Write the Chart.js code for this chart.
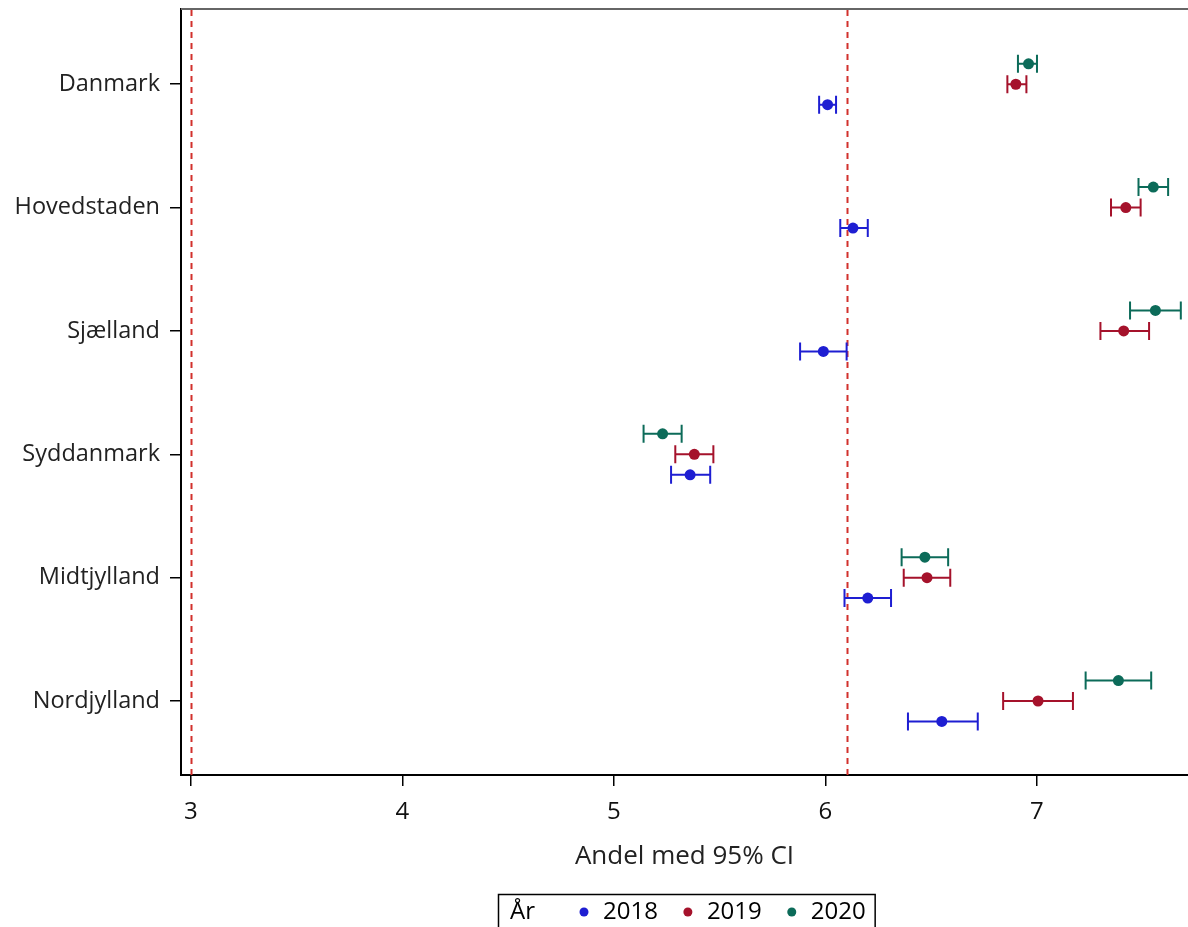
<!DOCTYPE html>
<html><head><meta charset="utf-8">
<script src="https://cdn.jsdelivr.net/npm/chart.js@4"></script>
<style>html,body{margin:0;padding:0;background:#fff;overflow:hidden}#wrap{width:1188px;height:927px;position:relative}</style>
</head><body><div id="wrap"><canvas id="c" width="1188" height="927"></canvas></div>
<script>
const categories = ['Danmark', 'Hovedstaden', 'Sjælland', 'Syddanmark', 'Midtjylland', 'Nordjylland'];
const years = ['2018', '2019', '2020'];
const est2018 = [6.01, 6.13, 5.99, 5.36, 6.20, 6.55];
const lo2018  = [5.97, 6.07, 5.88, 5.27, 6.09, 6.39];
const hi2018  = [6.05, 6.20, 6.10, 5.455, 6.31, 6.72];
const est2019 = [6.90, 7.42, 7.41, 5.38, 6.48, 7.005];
const lo2019  = [6.86, 7.35, 7.30, 5.29, 6.37, 6.84];
const hi2019  = [6.95, 7.49, 7.53, 5.47, 6.59, 7.17];
const est2020 = [6.96, 7.55, 7.56, 5.23, 6.47, 7.385];
const lo2020  = [6.91, 7.48, 7.44, 5.14, 6.36, 7.23];
const hi2020  = [7.00, 7.62, 7.68, 5.32, 6.58, 7.54];
const xTicks = [3, 4, 5, 6, 7];
const refLines = [3, 6.1];
const xTitle = 'Andel med 95% CI';
const legendTitle = 'År';

const FONT = "'Open Sans', 'Noto Sans', sans-serif";
const colors = ['#1e1ed2', '#a5122b', '#0c6b59'];
const DODGE = 0.166;
const offsets = [DODGE, 0, -DODGE];
const est = [est2018, est2019, est2020];
const lo = [lo2018, lo2019, lo2020];
const hi = [hi2018, hi2019, hi2020];

const datasets = years.map((yr, s) => ({
  label: yr,
  data: categories.map((c, i) => ({ x: est[s][i], y: i + 1 + offsets[s], lo: lo[s][i], hi: hi[s][i] })),
  backgroundColor: colors[s],
  borderColor: colors[s],
  pointRadius: 5.5,
  pointBorderWidth: 0,
  showLine: false,
  clip: false
}));

const framePlugin = {
  id: 'frame',
  beforeDatasetsDraw(chart) {
    const { ctx, chartArea: a, scales: { x } } = chart;
    ctx.save();
    ctx.strokeStyle = '#666';
    ctx.lineWidth = 2;
    ctx.beginPath(); ctx.moveTo(a.left, a.top); ctx.lineTo(a.right, a.top); ctx.stroke();
    ctx.strokeStyle = '#d2302c';
    ctx.lineWidth = 2;
    ctx.setLineDash([6, 5]);
    refLines.forEach(v => {
      const px = Math.round(x.getPixelForValue(v)) + 0.5;
      ctx.beginPath(); ctx.moveTo(px, a.top + 1); ctx.lineTo(px, a.bottom); ctx.stroke();
    });
    ctx.restore();
  }
};

const errorBarPlugin = {
  id: 'errorbars',
  beforeDatasetsDraw(chart) {
    const { ctx, scales: { x, y } } = chart;
    ctx.save();
    ctx.lineWidth = 2;
    chart.data.datasets.forEach(ds => {
      ctx.strokeStyle = ds.borderColor;
      ds.data.forEach(d => {
        const py = y.getPixelForValue(d.y);
        const x1 = x.getPixelForValue(d.lo);
        const x2 = x.getPixelForValue(d.hi);
        ctx.beginPath();
        ctx.moveTo(x1, py); ctx.lineTo(x2, py);
        ctx.moveTo(x1, py - 9); ctx.lineTo(x1, py + 9);
        ctx.moveTo(x2, py - 9); ctx.lineTo(x2, py + 9);
        ctx.stroke();
      });
    });
    ctx.restore();
  }
};

const legendPlugin = {
  id: 'customLegend',
  afterDraw(chart) {
    const { ctx } = chart;
    ctx.save();
    ctx.font = '24px ' + FONT;
    ctx.textBaseline = 'middle';
    const padL = 12, gapTitle = 49, dotToText = 19, textToDot = 30, padR = 9;
    const titleW = ctx.measureText(legendTitle).width;
    const labels = chart.data.datasets.map(d => d.label);
    const widths = labels.map(l => ctx.measureText(l).width);
    let total = padL + titleW + gapTitle;
    widths.forEach((w, i) => { total += dotToText + w + (i < widths.length - 1 ? textToDot : padR); });
    const x0 = 498;
    const yTop = 894, yMid = 912;
    ctx.strokeStyle = '#000';
    ctx.lineWidth = 1.5;
    ctx.strokeRect(x0 + 0.5, yTop + 0.5, total, 50);
    ctx.fillStyle = '#000';
    let cx = x0 + padL;
    ctx.fillText(legendTitle, cx, yMid);
    cx += titleW + gapTitle;
    chart.data.datasets.forEach((d, i) => {
      ctx.fillStyle = d.backgroundColor;
      ctx.beginPath(); ctx.arc(cx, yMid, 4.5, 0, Math.PI * 2); ctx.fill();
      ctx.fillStyle = '#000';
      ctx.fillText(labels[i], cx + dotToText, yMid);
      cx += dotToText + widths[i] + textToDot;
    });
    ctx.restore();
  }
};

new Chart(document.getElementById('c'), {
  type: 'scatter',
  data: { datasets },
  options: {
    responsive: false,
    animation: false,
    devicePixelRatio: 1,
    layout: { autoPadding: false, padding: { top: 9, right: 0, left: 0, bottom: 0 } },
    plugins: { legend: { display: false }, tooltip: { enabled: false } },
    scales: {
      x: {
        type: 'linear',
        min: 2.953,
        max: 7.714,
        afterBuildTicks: s => { s.ticks = xTicks.map(v => ({ value: v })); },
        afterFit: s => { s.height = 152; s.paddingLeft = 0; s.paddingRight = 0; },
        grid: { display: true, drawOnChartArea: false, drawTicks: true, tickLength: 11, color: '#000', lineWidth: 1.5 },
        border: { display: true, color: '#000', width: 2 },
        ticks: { font: { size: 24, family: FONT }, color: '#111', padding: 12, maxRotation: 0 },
        title: { display: true, text: xTitle, font: { size: 26, family: FONT }, color: '#222', padding: { top: 0, bottom: 55 } }
      },
      y: {
        type: 'linear',
        reverse: true,
        min: 0.39,
        max: 6.6,
        afterBuildTicks: s => { s.ticks = categories.map((c, i) => ({ value: i + 1 })); },
        afterFit: s => { s.width = 181; s.paddingTop = 0; s.paddingBottom = 0; },
        grid: { display: true, drawOnChartArea: false, drawTicks: true, tickLength: 11, color: '#000', lineWidth: 1.5 },
        border: { display: true, color: '#000', width: 2 },
        ticks: { font: { size: 23.5, family: FONT }, color: '#222', padding: 10, callback: (v, i) => categories[i] }
      }
    }
  },
  plugins: [framePlugin, errorBarPlugin, legendPlugin]
});
</script></body></html>
